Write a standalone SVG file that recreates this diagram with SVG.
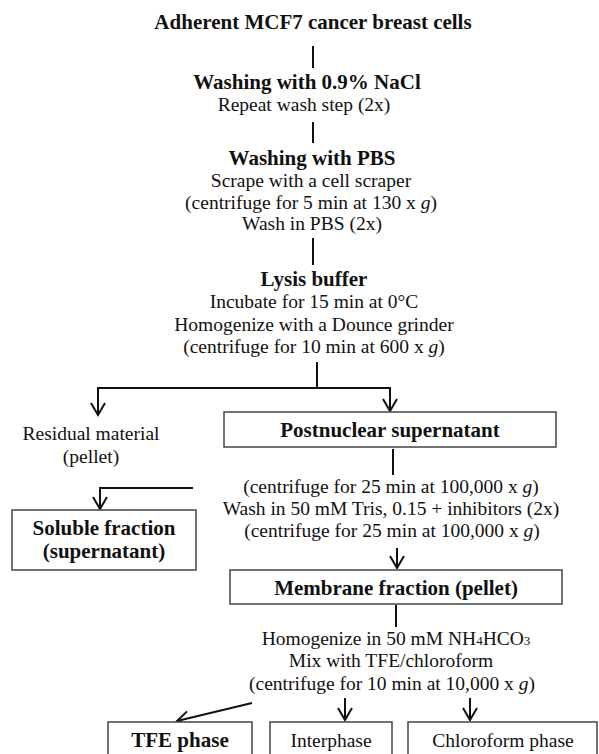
<svg xmlns="http://www.w3.org/2000/svg" width="599" height="754" viewBox="0 0 599 754">
<style>
text{font-family:"Liberation Serif","Times New Roman",serif;fill:#111;text-anchor:middle}
.b{font-weight:bold;font-size:21px}
.r{font-size:19.5px}
.box{fill:#fff;stroke:#444;stroke-width:1.5}
.ln{fill:none;stroke:#111;stroke-width:2}
</style>
<defs>
<marker id="ah" markerUnits="userSpaceOnUse" markerWidth="20" markerHeight="20" refX="0" refY="0" viewBox="-14 -10 16 20" orient="auto" overflow="visible">
<path d="M-12,-7 L0,0 L-12,7" fill="none" stroke="#111" stroke-width="2"/>
</marker>
</defs>
<rect width="599" height="754" fill="#fff"/>
<g id="connectors">
<line class="ln" x1="313" y1="46" x2="313" y2="68"/>
<line class="ln" x1="313" y1="122" x2="313" y2="143"/>
<line class="ln" x1="313" y1="238" x2="313" y2="265"/>
<line class="ln" x1="317" y1="362" x2="317" y2="388"/>
<polyline class="ln" points="98,415 98,388 390,388 390,411" marker-end="url(#ah)"/>
<line class="ln" x1="98" y1="400" x2="98" y2="415" marker-end="url(#ah)"/>
<line class="ln" x1="393" y1="449" x2="393" y2="475"/>
<polyline class="ln" points="193,488 100,488 100,509" marker-end="url(#ah)"/>
<line class="ln" x1="397" y1="548" x2="397" y2="568" marker-end="url(#ah)"/>
<line class="ln" x1="396" y1="605" x2="396" y2="627"/>
<line class="ln" x1="252" y1="703" x2="177" y2="721" marker-end="url(#ah)"/>
<line class="ln" x1="345" y1="698" x2="345" y2="720" marker-end="url(#ah)"/>
<line class="ln" x1="470" y1="698" x2="470" y2="720" marker-end="url(#ah)"/>
</g>
<g id="n1"><text class="b" x="313" y="29">Adherent MCF7 cancer breast cells</text></g>
<g id="n2"><text class="b" x="307" y="89">Washing with 0.9% NaCl</text>
<text class="r" x="304" y="111">Repeat wash step (2x)</text></g>
<g id="n3"><text class="b" x="312" y="165">Washing with PBS</text>
<text class="r" x="311" y="187">Scrape with a cell scraper</text>
<text class="r" x="311" y="209">(centrifuge for 5 min at 130 x <tspan font-style="italic">g</tspan>)</text>
<text class="r" x="312" y="230">Wash in PBS (2x)</text></g>
<g id="n4"><text class="b" x="314" y="286">Lysis buffer</text>
<text class="r" x="314" y="308">Incubate for 15 min at 0°C</text>
<text class="r" x="314" y="331">Homogenize with a Dounce grinder</text>
<text class="r" x="314" y="353">(centrifuge for 10 min at 600 x <tspan font-style="italic">g</tspan>)</text></g>
<g id="n5"><text class="r" x="91" y="440">Residual material</text>
<text class="r" x="91" y="463">(pellet)</text></g>
<g id="n6"><rect class="box" x="224" y="412" width="332" height="35"/>
<text class="b" x="390" y="437">Postnuclear supernatant</text></g>
<g id="n7"><text class="r" x="391" y="493">(centrifuge for 25 min at 100,000 x <tspan font-style="italic">g</tspan>)</text>
<text class="r" x="391" y="515">Wash in 50 mM Tris, 0.15 + inhibitors (2x)</text>
<text class="r" x="392" y="537">(centrifuge for 25 min at 100,000 x <tspan font-style="italic">g</tspan>)</text></g>
<g id="n8"><rect class="box" x="12" y="510" width="184" height="60"/>
<text class="b" x="104" y="535">Soluble fraction</text>
<text class="b" x="104" y="558">(supernatant)</text></g>
<g id="n9"><rect class="box" x="230" y="570" width="332" height="34"/>
<text class="b" x="396" y="595">Membrane fraction (pellet)</text></g>
<g id="n10"><text class="r" x="396" y="645">Homogenize in 50 mM NH<tspan font-size="13px">4</tspan>HCO<tspan font-size="13px">3</tspan></text>
<text class="r" x="391" y="667">Mix with TFE/chloroform</text>
<text class="r" x="392" y="690">(centrifuge for 10 min at 10,000 x <tspan font-style="italic">g</tspan>)</text></g>
<g id="n11"><rect class="box" x="108" y="722" width="144" height="40"/>
<text class="b" x="180" y="747">TFE phase</text></g>
<g id="n12"><rect class="box" x="270" y="722" width="122" height="40"/>
<text class="r" x="331" y="747">Interphase</text></g>
<g id="n13"><rect class="box" x="408" y="722" width="189" height="40"/>
<text class="r" x="503" y="747">Chloroform phase</text></g>
</svg>
